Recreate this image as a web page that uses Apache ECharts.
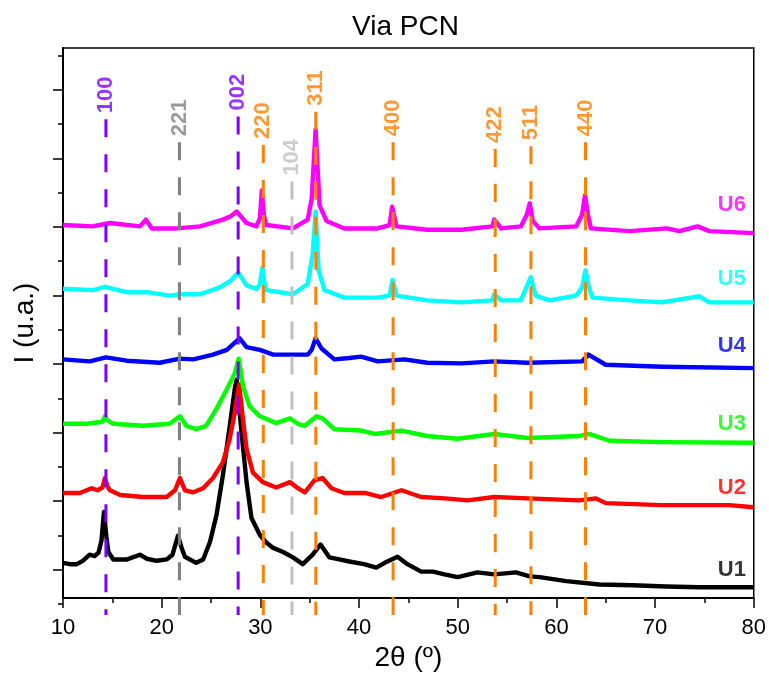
<!DOCTYPE html>
<html><head><meta charset="utf-8">
<script src="https://cdn.jsdelivr.net/npm/echarts@6/dist/echarts.min.js"></script>
<style>html,body{margin:0;padding:0;background:#fff}#c{width:769px;height:677px}</style>
</head><body><div id="c"></div>
<script>
// ---- data (2θ in degrees, intensity in arbitrary units, traces offset for display) ----
const sampleNames = ['U1', 'U2', 'U3', 'U4', 'U5', 'U6'];
const sampleColors = ['#000000', '#ff0000', '#00ff00', '#0000ff', '#00ffff', '#ff00ff'];

const u1 = [[10,52],[10.7,50],[11.4,50],[12.0,55],[12.7,64],[13.2,62],[13.6,67],[13.9,85],[14.15,127],[14.4,90],[14.6,68],[15.1,57],[16.5,57],[17.8,64],[18.5,58],[19.5,55],[20.5,57],[21.1,64],[21.65,92],[22.0,75],[22.35,61],[23.5,52],[24.2,57],[24.9,83],[25.55,122],[26.2,181],[26.9,254],[27.4,308],[27.6,322],[28.1,243],[28.6,171],[29.1,118],[29.95,93],[30.6,82],[31.3,74],[32.3,68],[33.3,60],[34.3,50],[35.3,64],[36.1,79],[37.0,60],[38.0,57],[39.0,54],[40.5,50],[41.75,45],[42.6,52],[43.3,57],[43.9,61],[44.9,50],[46.3,39],[47.5,39],[48.65,35],[50.0,31],[52.0,38],[53.7,35],[55.9,38],[57.3,32],[58.3,31],[61.0,25],[64.35,20],[67.7,19],[71.1,17],[74.5,16],[77.8,16],[80,16]];
const u2 = [[10,155],[11.7,155],[12.9,162],[13.5,159],[14.0,163],[14.25,177],[14.5,165],[14.75,159],[15.8,152],[18.1,149],[20.5,149],[21.35,159],[21.85,177],[22.35,159],[23.2,156],[24.2,162],[25.2,177],[26.2,200],[26.9,235],[27.4,273],[27.85,315],[28.2,268],[28.6,220],[29.25,185],[30.25,171],[31.6,163],[33.0,171],[33.8,162],[34.5,156],[35.5,174],[36.3,177],[37.2,162],[38.5,155],[40.6,155],[42.25,149],[44.3,159],[46.3,149],[48.7,147],[51.0,144],[53.7,149],[57.1,147],[62.3,144],[64.0,147],[65.0,140],[70.7,137],[77.5,137],[80,134]];
const u3 = [[10,257],[12.4,257],[14.0,260],[14.25,268],[14.5,262],[15.1,257],[18.1,254],[20.8,257],[21.85,268],[22.5,254],[23.5,249],[24.5,254],[25.55,279],[26.6,308],[27.4,331],[27.8,353],[28.25,312],[28.9,283],[29.95,268],[31.6,258],[33.0,265],[33.8,257],[34.5,254],[35.7,268],[36.3,265],[37.5,249],[40.2,247],[41.6,242],[44.3,247],[46.9,239],[50.0,235],[53.7,242],[57.1,236],[62.3,239],[63.3,242],[65.4,232],[70.7,230],[80,229]];
const u4 = [[10,352],[12.7,349],[14.35,355],[16.45,350],[19.8,347],[21.85,353],[23.2,352],[25.2,359],[26.6,366],[27.9,383],[28.6,370],[29.95,366],[31.3,359],[33.3,359],[34.8,359],[35.2,366],[35.6,383],[36.2,368],[37.5,352],[39.0,354],[40.2,356],[41.9,349],[44.6,352],[46.9,347],[50.4,346],[53.7,349],[57.1,347],[62.6,349],[63.25,359],[65.0,344],[70.7,341],[80,339]];
const u5 = [[10,456],[13.07,454],[14.25,459],[16.45,451],[18.5,451],[20.8,446],[21.85,448],[23.9,448],[25.9,458],[27.0,468],[27.75,480],[28.6,461],[29.6,456],[29.95,462],[30.2,487],[30.45,462],[30.6,454],[33.3,448],[34.8,463],[35.3,507],[35.6,570],[35.9,483],[36.5,454],[38.5,443],[41.9,443],[43.1,446],[43.4,469],[43.8,446],[46.9,439],[50.4,436],[53.5,439],[53.7,448],[54.4,439],[56.4,439],[57.1,463],[57.4,473],[57.9,446],[59.3,439],[62.0,446],[62.6,458],[62.95,483],[63.3,458],[63.65,443],[67.4,439],[70.7,436],[74.5,445],[75.5,436],[80,436]];
const u6 = [[10,550],[13.0,548],[14.75,553],[17.8,548],[18.4,558],[19.0,545],[21.5,545],[23.9,548],[26.2,558],[27.0,563],[27.6,570],[28.6,553],[29.6,548],[29.95,560],[30.15,601],[30.35,565],[30.6,550],[33.3,545],[34.8,558],[35.2,589],[35.6,691],[36.0,579],[36.7,556],[38.5,545],[41.9,545],[43.1,550],[43.35,577],[43.8,548],[46.9,543],[50.4,543],[53.5,548],[53.7,558],[54.4,545],[56.4,548],[57.0,565],[57.3,582],[57.6,556],[58.3,545],[62.0,548],[62.6,565],[62.9,594],[63.2,565],[63.5,545],[67.4,541],[71.2,545],[72.45,541],[74.3,548],[75.5,541],[80,538]];
const sampleData = [u1, u2, u3, u4, u5, u6];
const sampleLabelX = 79.2;
const sampleLabelY = [42, 162, 257, 372, 471, 580];

const hklNames  = ['100', '221', '002', '220', '104', '311', '400', '422', '511', '440'];
const hklPos    = [14.35, 21.8, 27.75, 30.3, 33.2, 35.62, 43.45, 53.8, 57.42, 62.95];
const hklColors = ['#7f00ff', '#808080', '#7f00ff', '#ff8000', '#c0c0c0', '#ff8000', '#ff8000', '#ff8000', '#ff8000', '#ff8000'];
const hklTop    = [706, 672, 710, 668, 614, 717, 672, 662, 666, 672];
const hklBottom = -25;

const xMin = 10, xMax = 80, xStep = 10;
const yMin = 0, yMax = 811;
const majorTickFirst = 50, majorTickLast = 750, minorTickLast = 800, tickStep = 100;

// ---- layout helpers ----
const FONT = '"Liberation Sans", Arial, sans-serif';
const gridLeft = 63, gridRight = 14, gridTop = 48, gridBottom = 73;
const plotH = 677 - gridTop - gridBottom;
const yPix = v => gridTop + plotH * (1 - (v - yMin) / (yMax - yMin));

const series = [];
sampleData.forEach((d, i) => {
  series.push({
    type: 'line', name: sampleNames[i], data: d, xAxisIndex: 0, yAxisIndex: 0,
    symbol: 'none', showSymbol: false, smooth: false, z: 2, silent: true,
    lineStyle: { color: sampleColors[i], width: 4.4, join: 'round' }
  });
});
hklPos.forEach((p, i) => {
  series.push({
    type: 'line', data: [[p, hklTop[i]], [p, hklBottom]], xAxisIndex: 0, yAxisIndex: 0,
    symbol: 'none', clip: false, z: 3, silent: true,
    lineStyle: { color: hklColors[i], width: 3, type: [18, 17] }
  });
});
series.push({
  type: 'scatter', xAxisIndex: 0, yAxisIndex: 0, symbolSize: 0, z: 4, silent: true, clip: false,
  data: hklPos.map((p, i) => ({
    value: [p, hklTop[i]], name: hklNames[i],
    label: { color: hklColors[i] }
  })),
  label: {
    show: true, formatter: p => p.name, position: 'top', distance: 6, rotate: 90,
    align: 'left', verticalAlign: 'middle', fontSize: 22, fontWeight: 'bold', fontFamily: FONT
  }
});
series.push({
  type: 'scatter', xAxisIndex: 0, yAxisIndex: 0, symbolSize: 0, z: 4, silent: true,
  data: sampleNames.map((n, i) => ({
    value: [sampleLabelX, sampleLabelY[i]], name: n, label: { color: sampleColors[i] }
  })),
  label: {
    show: true, formatter: p => p.name, position: 'left', distance: 0,
    fontSize: 22, fontWeight: 'bold', fontFamily: FONT
  }
});

const option = {
  animation: false,
  backgroundColor: '#fff',
  title: {
    text: 'Via PCN', left: 347, top: 8,
    textStyle: { fontSize: 28, fontWeight: 'normal', color: '#000', fontFamily: FONT }
  },
  grid: [
    { left: gridLeft, right: gridRight, top: gridTop, bottom: gridBottom, show: true, borderColor: '#000', borderWidth: 1.5, containLabel: false },
    { left: gridLeft, right: gridRight, top: yPix(majorTickLast), bottom: 677 - yPix(majorTickFirst) },
    { left: gridLeft, right: gridRight, top: yPix(minorTickLast), bottom: gridBottom }
  ],
  xAxis: [
    {
      gridIndex: 0, type: 'value', min: xMin, max: xMax, interval: xStep,
      axisLine: { show: true, lineStyle: { color: '#000', width: 2 } },
      axisTick: { show: true, inside: false, length: 10, lineStyle: { color: '#000', width: 1.5 } },
      minorTick: { show: true, splitNumber: 2, length: 5, lineStyle: { color: '#000', width: 1.5 } },
      axisLabel: { show: true, margin: 19, fontSize: 22, color: '#000', fontFamily: FONT },
      splitLine: { show: false },
      name: '2θ (º)', nameLocation: 'middle', nameGap: 45,
      nameTextStyle: { fontSize: 28, color: '#000', fontFamily: FONT }
    },
    { gridIndex: 1, type: 'value', min: xMin, max: xMax, show: false },
    { gridIndex: 2, type: 'value', min: xMin, max: xMax, show: false }
  ],
  yAxis: [
    {
      gridIndex: 0, type: 'value', min: yMin, max: yMax,
      axisLine: { show: true, lineStyle: { color: '#000', width: 2 } },
      axisTick: { show: false }, axisLabel: { show: false }, splitLine: { show: false },
      name: 'I (u.a.)', nameLocation: 'middle', nameGap: 24,
      nameTextStyle: { fontSize: 28, color: '#000', fontFamily: FONT }
    },
    {
      gridIndex: 1, type: 'value', min: majorTickFirst, max: majorTickLast, interval: tickStep,
      axisLine: { show: false }, axisLabel: { show: false }, splitLine: { show: false },
      axisTick: { show: true, length: 10, lineStyle: { color: '#000', width: 1.5 } }
    },
    {
      gridIndex: 2, type: 'value', min: yMin, max: minorTickLast, interval: tickStep,
      axisLine: { show: false }, axisLabel: { show: false }, splitLine: { show: false },
      axisTick: { show: true, length: 5, lineStyle: { color: '#000', width: 1.5 } }
    }
  ],
  series: series
};
const chart = echarts.init(document.getElementById('c'), null, { renderer: 'canvas' });
chart.setOption(option);
</script></body></html>
